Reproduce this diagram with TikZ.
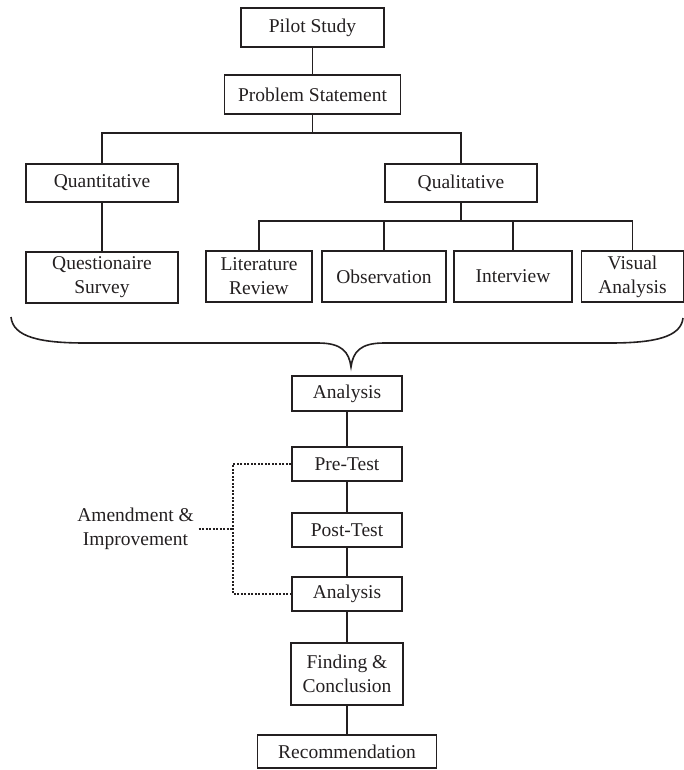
\documentclass[tikz,border=0pt]{standalone}
\usepackage{fontspec}
\setmainfont{Liberation Serif}
\usetikzlibrary{positioning}
\definecolor{cline}{HTML}{231F20}
\tikzset{
  every picture/.style={line width=1.6pt},
  box/.style={draw=cline, text=cline, align=center, inner sep=2pt, minimum height=#1},
  box/.default=38pt,
  link/.style={draw=cline, line width=1.6pt},
  loopback/.style={draw=cline, line width=1.3pt, dash pattern=on 2pt off 1.5pt},
}

\begin{document}
\begin{tikzpicture}[x=1pt, y=-1pt,
    every node/.append style={font=\fontsize{19.5}{24}\selectfont},
  ]
  \useasboundingbox (0,0) rectangle (684,770);

  % top of the study
  \node[box=39pt, minimum width=143pt] (pilot) at (312.5,27.5) {Pilot Study};
  \node[box=39pt, minimum width=176pt] (prob)  at (312.5,94.5) {Problem Statement};
  \draw[link] (pilot) -- (prob);

  % two approaches
  \node[box, minimum width=152pt] (quan) at (102,183) {Quantitative};
  \node[box, minimum width=152pt] (qual) at (461,183) {Qualitative};
  \coordinate (bar1) at (312.5,133);
  \draw[link] (prob.south) -- (bar1);
  \draw[link] (quan.north) |- (bar1) -| (qual.north);

  % methods
  \node[box=51pt, minimum width=152pt] (ques) at (102,277.5) {Questionaire\\Survey};
  \node[box=51pt, minimum width=106pt] (lit)  at (259,276.5) {Literature\\Review};
  \node[box=51pt, minimum width=124pt] (obs)  at (384,276.5) {Observation};
  \node[box=51pt, minimum width=118pt] (int)  at (513,276.5) {Interview};
  \node[box=51pt, minimum width=102pt] (vis)  at (632.5,276.5) {Visual\\Analysis};
  \draw[link] (quan) -- (ques);
  \coordinate (bar2) at (461,221);
  \draw[link] (qual.south) -- (bar2);
  \foreach \m in {lit, obs, int, vis} \draw[link] (bar2) -| (\m.north);

  % brace
  \draw[link] (11,317) .. controls (13,337) and (40,343) .. (85,343) -- (318,343)
    .. controls (342,343) and (349,352) .. (351,367)
    .. controls (353,352) and (360,343) .. (384,343) -- (610,343)
    .. controls (655,343) and (681,337) .. (683,318);

  % testing and results
  \node[box=35pt, minimum width=110pt] (anl1) at (347,393.5) {Analysis};
  \node[box=34pt, minimum width=110pt] (pre)  at (347,464) {Pre-Test};
  \node[box=34pt, minimum width=110pt] (post) at (347,530) {Post-Test};
  \node[box=34pt, minimum width=110pt] (anl2) at (347,594) {Analysis};
  \node[box=62pt, minimum width=112pt] (find) at (347,674) {Finding \&\\Conclusion};
  \node[box=33pt, minimum width=179pt] (rec)  at (347,751.5) {Recommendation};
  \foreach \a/\b in {anl1/pre, pre/post, post/anl2, anl2/find, find/rec}
    \draw[link] (\a) -- (\b);

  % feedback
  \node[text=cline, align=center, inner sep=4pt] (amend) at (135.5,529) {Amendment \&\\Improvement};
  \coordinate (fb) at (233,529);
  \draw[loopback] (pre.west) -| (fb) |- (anl2.west);
  \draw[loopback] (amend) -- (fb);
\end{tikzpicture}
\end{document}
